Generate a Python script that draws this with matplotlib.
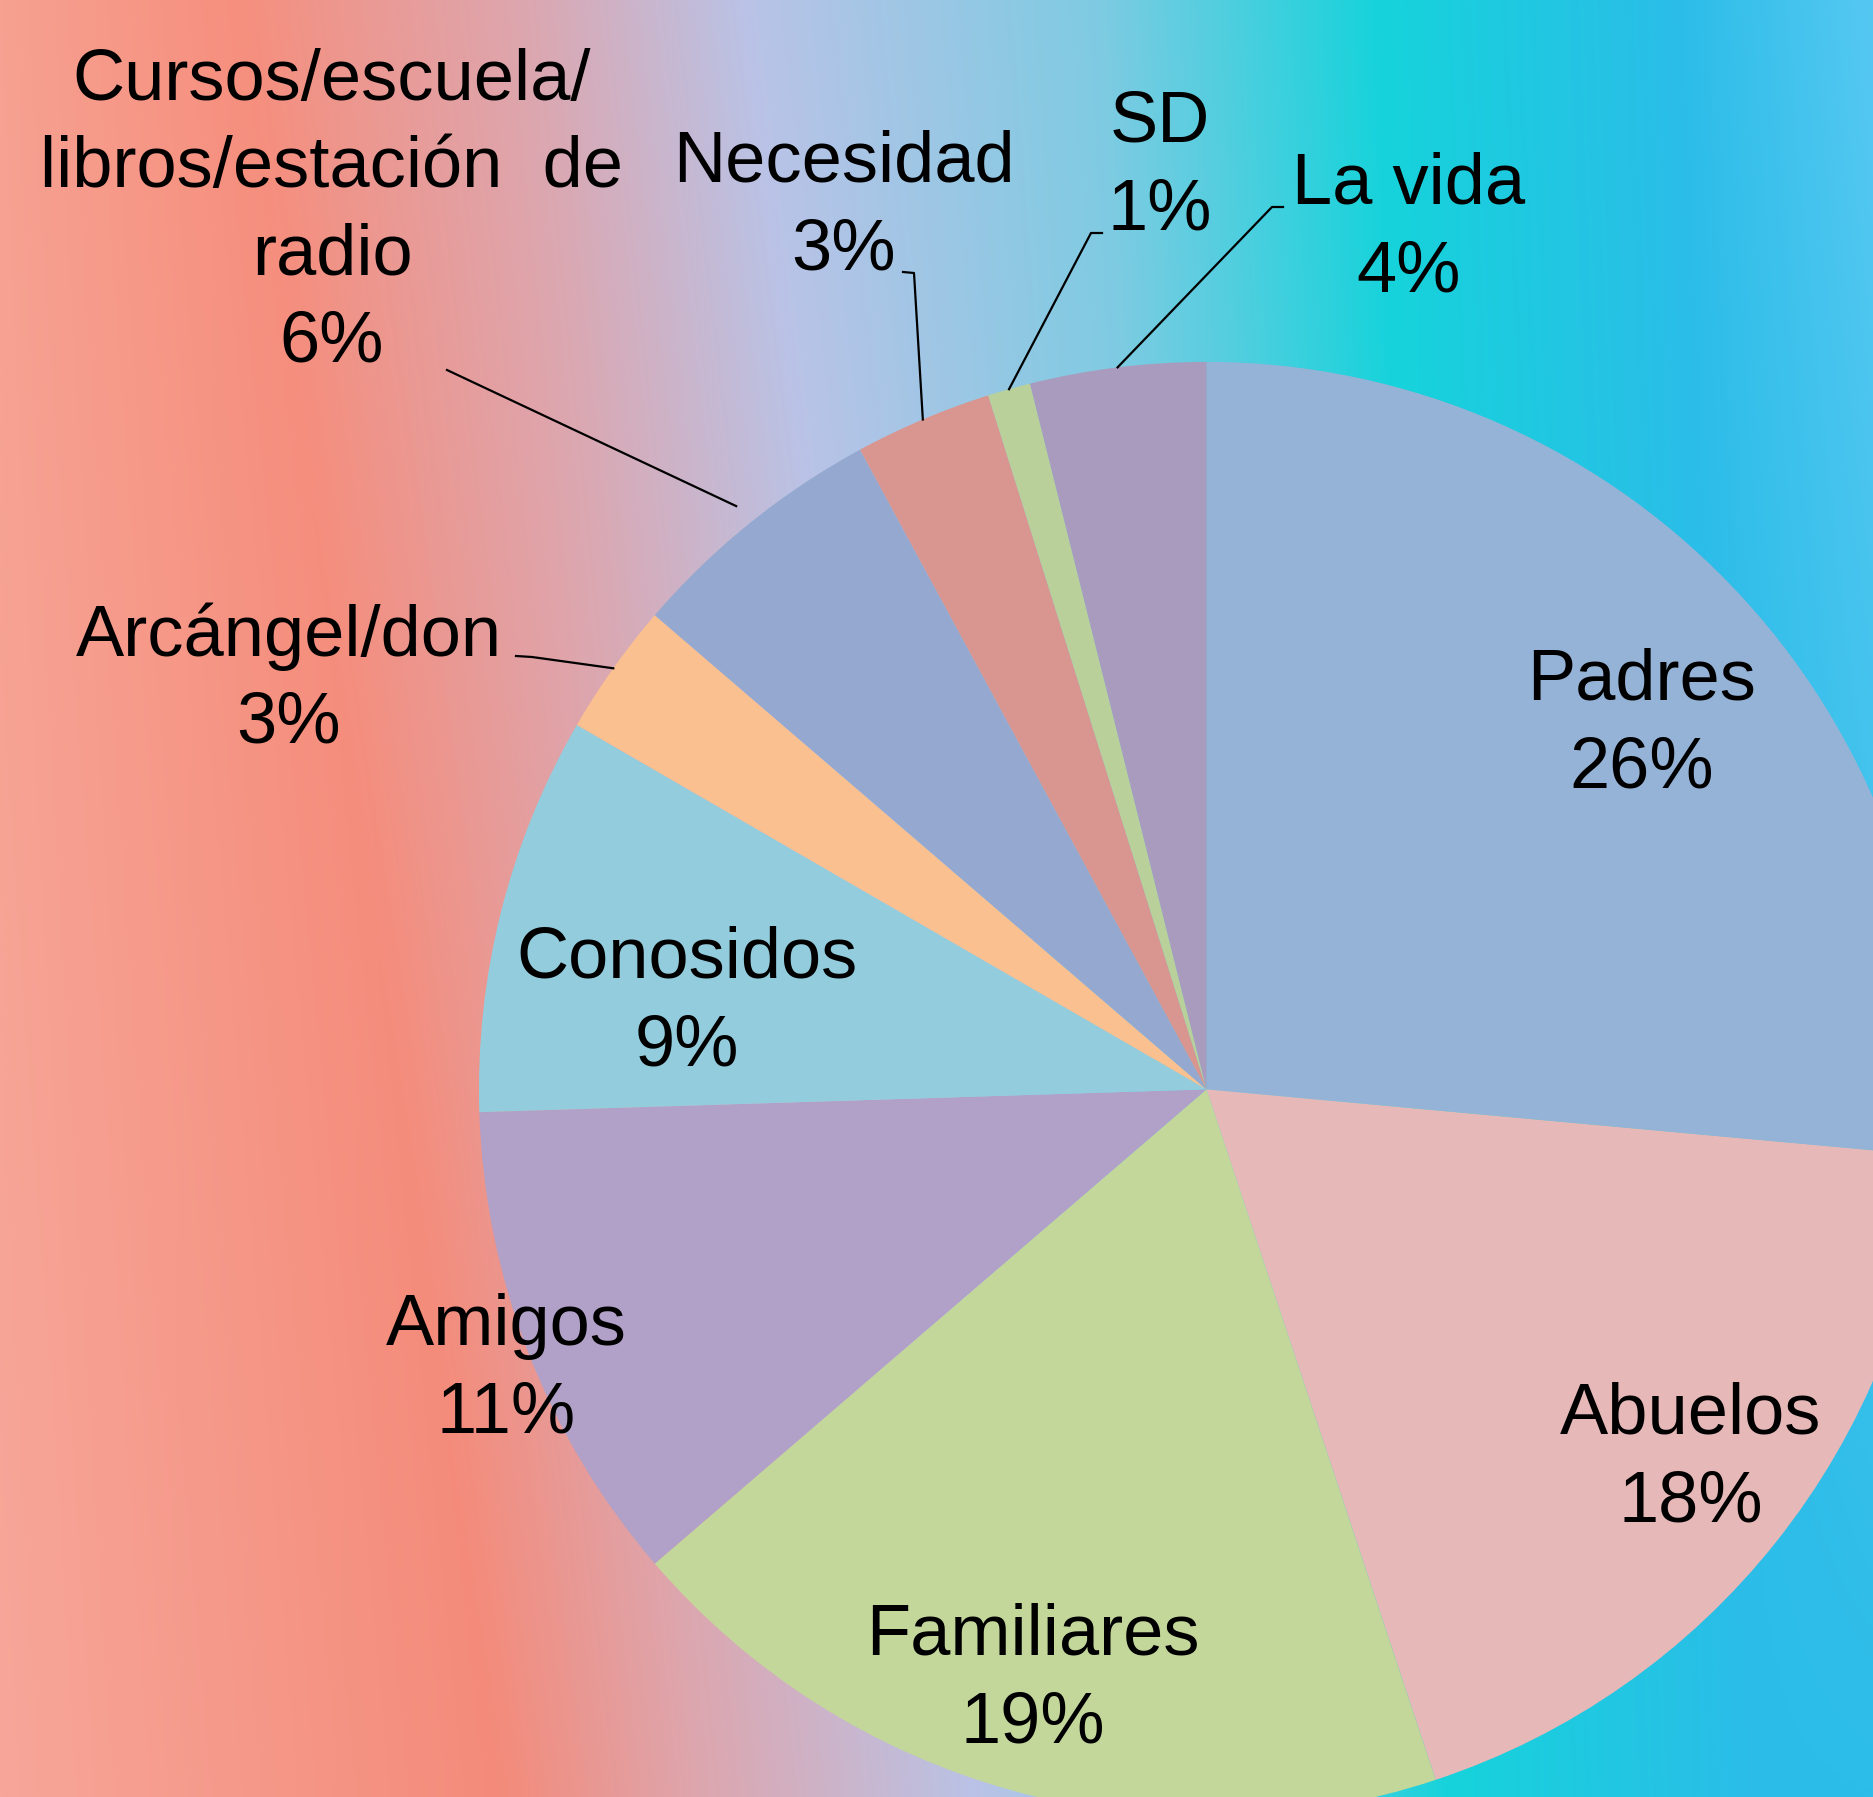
import numpy as np
import matplotlib
matplotlib.use('Agg')
import matplotlib.pyplot as plt
from matplotlib.colors import to_rgb

plt.rcParams['font.family'] = ['Liberation Sans', 'DejaVu Sans']

# datos (porcentaje estimado de cada categoría)
categorias = ['Padres', 'Abuelos', 'Familiares', 'Amigos', 'Conosidos', 'Arcángel/don',
              'Cursos/escuela/\nlibros/estación  de\nradio', 'Necesidad', 'SD', 'La vida']
valores = [26.45, 18.45, 18.8, 10.8, 8.85, 2.95, 5.8, 3.05, 0.95, 3.9]
colores = ['#95B3D7', '#E6B8B7', '#C4D79B', '#B1A0C7', '#93CDDD', '#FAC090',
           '#95A9D0', '#D9958F', '#B9D09A', '#A99BBD']

# posiciones de las etiquetas (px de la figura, desde arriba a la izquierda)
pos_etiquetas = [(1642, 725), (1691, 1459), (1033, 1680), (506, 1370), (687, 1003),
                 (289, 680), (332, 212), (844, 207), (1160, 167), (1409, 229)]
# líneas guía: índice -> (inicio, codo, radio final)
guias = {5: ((516, 656), (532, 657), 1.0),
         6: ((447, 370), (447, 370), 1.03),
         7: ((903, 272), (914, 273), 1.0),
         8: ((1102, 233), (1091, 233), 1.0),
         9: ((1283, 207), (1272, 207), 1.0)}

W, H = 1873, 1797
cx, cy, R = 1206.5, 1089.4, 727.5


def px2d(p):
    return ((p[0] - cx) / R, (cy - p[1]) / R)


fig = plt.figure(figsize=(W / 100, H / 100), dpi=100)
ax = fig.add_axes([0, 0, 1, 1])
xmin, xmax = -cx / R, (W - cx) / R
ymin, ymax = -(H - cy) / R, cy / R

# fondo degradado
top_pos = [0, 240, 520, 750, 1100, 1380, 1680, 1873]
bot_pos = [0, 500, 700, 980, 1200, 1450, 1750, 1873]
top_col = ['#F7A191', '#F68F7E', '#DDA6AE', '#B9C3E7', '#7ECBE2', '#16D3DB', '#2BBDE8', '#55C8F2']
bot_col = ['#F7A699', '#F48B7A', '#DDA6AE', '#B9C3E7', '#7ECBE2', '#16D3DB', '#2BBDE8', '#2CBDE8']
nx, ny = 600, 120
xs = np.linspace(0, W, nx)
img = np.zeros((ny, nx, 3))
for j in range(ny):
    t = j / (ny - 1)
    pos = [a * (1 - t) + b * t for a, b in zip(top_pos, bot_pos)]
    cols = [np.array(to_rgb(a)) * (1 - t) + np.array(to_rgb(b)) * t for a, b in zip(top_col, bot_col)]
    cols = np.array(cols)
    for k in range(3):
        img[j, :, k] = np.interp(xs, pos, cols[:, k])
ax.imshow(img, extent=[xmin, xmax, ymin, ymax], aspect='auto', zorder=0, interpolation='bilinear')

wedges, _ = ax.pie(valores, colors=colores, startangle=90, counterclock=False, radius=1,
                   wedgeprops=dict(linewidth=0), center=(0, 0))

total = sum(valores)
for i, (nombre, v) in enumerate(zip(categorias, valores)):
    x, y = px2d(pos_etiquetas[i])
    ax.text(x, y, f'{nombre}\n{round(v / total * 100):.0f}%', ha='center', va='center',
            fontsize=52, linespacing=1.39, zorder=5)

for i, (ini, codo, rf) in guias.items():
    w = wedges[i]
    ang = np.deg2rad((w.theta1 + w.theta2) / 2)
    p0 = px2d(ini)
    p1 = px2d(codo)
    ax.plot([p0[0], p1[0], rf * np.cos(ang)], [p0[1], p1[1], rf * np.sin(ang)],
            color='black', lw=1.6, zorder=4)

ax.set_aspect('auto')
ax.set_xlim(xmin, xmax)
ax.set_ylim(ymin, ymax)
ax.axis('off')

plt.savefig('out.png', dpi=100)
